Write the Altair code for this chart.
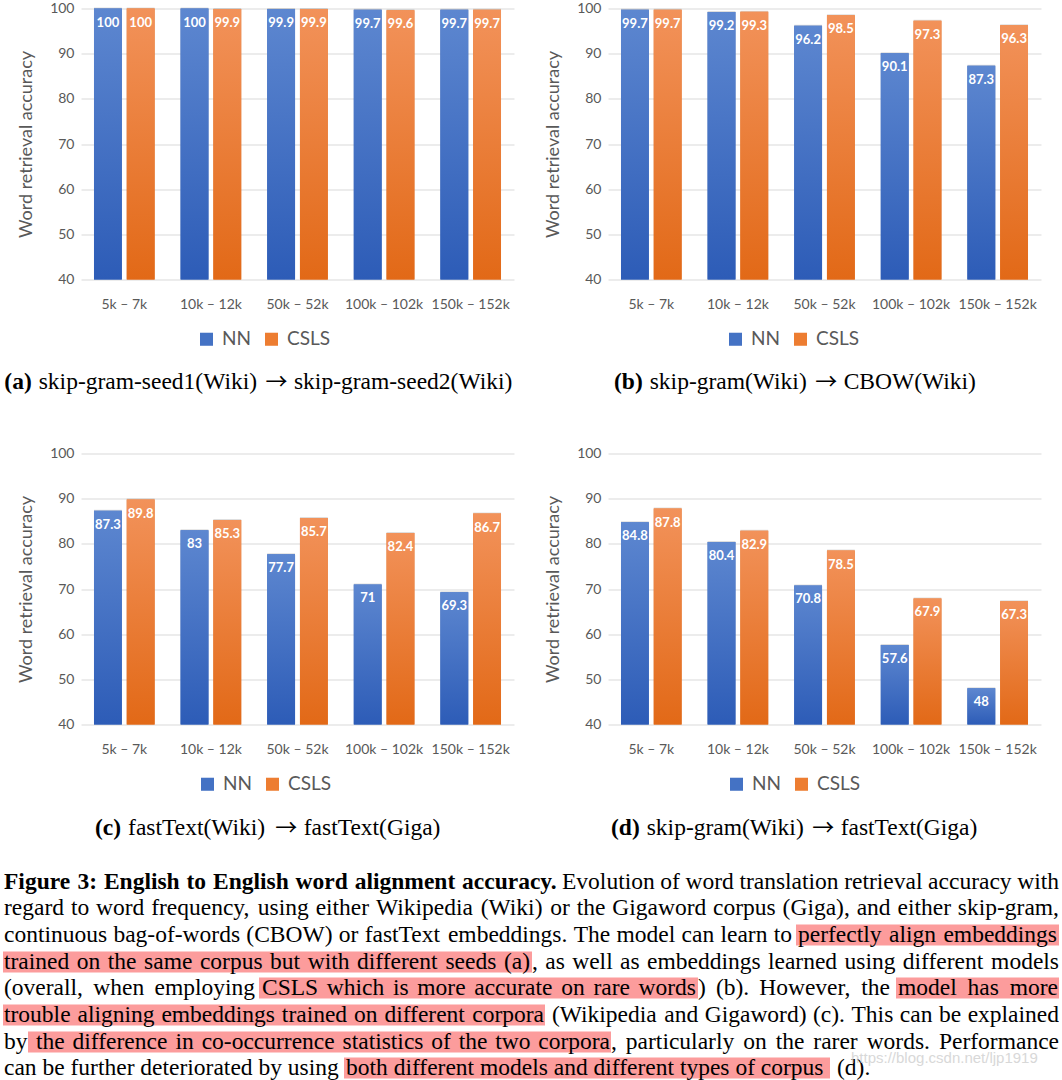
import altair as alt
import pandas as pd

# ---------------- data ----------------
cats = ["5k – 7k", "10k – 12k", "50k – 52k", "100k – 102k", "150k – 152k"]
series = ["NN", "CSLS"]

a_nn = [100, 100, 99.9, 99.7, 99.7]
a_csls = [100, 99.9, 99.9, 99.6, 99.7]
b_nn = [99.7, 99.2, 96.2, 90.1, 87.3]
b_csls = [99.7, 99.3, 98.5, 97.3, 96.3]
c_nn = [87.3, 83, 77.7, 71, 69.3]
c_csls = [89.8, 85.3, 85.7, 82.4, 86.7]
d_nn = [84.8, 80.4, 70.8, 57.6, 48]
d_csls = [87.8, 82.9, 78.5, 67.9, 67.3]

cap_tags = ["(a)", "(b)", "(c)", "(d)"]
cap_from = ["skip-gram-seed1(Wiki)", "skip-gram(Wiki)", "fastText(Wiki)", "skip-gram(Wiki)"]
cap_to = ["skip-gram-seed2(Wiki)", "CBOW(Wiki)", "fastText(Giga)", "fastText(Giga)"]
y_ticks = [40, 50, 60, 70, 80, 90, 100]

# paragraph text, per line: (weight, text, page x start, page x end or None if ragged)
para_lines = [
    [("bold", "Figure 3: English to English word alignment accuracy.", 3, 557),
     ("normal", "Evolution of word translation retrieval accuracy with", 561, 1058)],
    [("normal", "regard to word frequency, using either Wikipedia (Wiki) or the Gigaword corpus (Giga), and either skip-gram,", 3, 1058)],
    [("normal", "continuous bag-of-words (CBOW) or fastText embeddings. The model can learn to", 3, 791),
     ("normal", "perfectly align embeddings", 797, 1056)],
    [("normal", "trained on the same corpus but with different seeds (a)", 3, 529),
     ("normal", ", as well as embeddings learned using different models", 531, 1058)],
    [("normal", "(overall, when employing", 3, 254),
     ("normal", "CSLS which is more accurate on rare words", 261, 695),
     ("normal", ") (b).  However, the", 697, 889),
     ("normal", "model has more", 897, 1057)],
    [("normal", "trouble aligning embeddings trained on different corpora", 3, 543),
     ("normal", "(Wikipedia and Gigaword) (c). This can be explained", 551, 1058)],
    [("normal", "by", 3, None),
     ("normal", "the difference in co-occurrence statistics of the two corpora", 35, 609),
     ("normal", ", particularly on the rarer words.  Performance", 610, 1058)],
    [("normal", "can be further deteriorated by using", 3, None),
     ("normal", "both different models and different types of corpus", 345, None),
     ("normal", "(d).", 836, None)],
]
line_y = [882, 908.5, 935, 962, 988, 1015, 1042, 1068]
# highlighted spans: (line index, x start, x end) on page
highlights = [(2, 795, 1058), (3, 2, 531), (4, 258, 697), (4, 895, 1058),
              (5, 2, 544), (6, 27, 610), (7, 343, 829)]

# ---------------- style / layout ----------------
GRAY = "#595959"
FONT = "Lato"
SERIF = "Liberation Serif"
PFS = 23.5
W, H = 433, 271
PANEL_ORIGIN = [(80, 9), (607, 9), (80, 454), (607, 454)]
CAP_START = [3.3, 613, 94, 610]
CAP_Y = [382, 382, 828, 828]

# Times (Liberation Serif) advance widths, 1/1000 em
_R = dict(zip("abcdefghijklmnopqrstuvwxyz",
              [444, 500, 444, 500, 444, 333, 500, 500, 278, 278, 500, 278, 778,
               500, 500, 500, 500, 333, 389, 278, 500, 500, 722, 500, 500, 444]))
_R.update(dict(zip("ABCDEFGHIJKLMNOPQRSTUVWXYZ",
                   [722, 667, 667, 722, 611, 556, 722, 722, 333, 389, 722, 611, 889,
                    722, 722, 556, 722, 667, 556, 611, 722, 722, 944, 722, 722, 611])))
_R.update({" ": 250, "(": 333, ")": 333, ",": 250, "-": 333, ".": 250, ":": 278, ";": 278})
_R.update({d: 500 for d in "0123456789"})
_B = dict(zip("abcdefghijklmnopqrstuvwxyz",
              [500, 556, 444, 556, 444, 333, 500, 556, 278, 333, 556, 278, 833,
               556, 500, 556, 556, 444, 389, 333, 556, 500, 722, 500, 500, 444]))
_B.update(dict(zip("ABCDEFGHIJKLMNOPQRSTUVWXYZ",
                   [722, 667, 722, 722, 667, 611, 778, 778, 389, 500, 778, 667, 944,
                    722, 778, 611, 778, 722, 556, 667, 722, 722, 1000, 722, 722, 667])))
_B.update({" ": 250, "(": 333, ")": 333, ",": 250, "-": 333, ".": 250, ":": 333})
_B.update({d: 500 for d in "0123456789"})


def text_w(s, weight="normal", fs=PFS):
    tab = _B if weight == "bold" else _R
    return sum(tab.get(ch, 500) for ch in s) * fs / 1000.0


def grad(top, bottom):
    return alt.Gradient(gradient="linear",
                        stops=[alt.GradientStop(color=top, offset=0),
                               alt.GradientStop(color=bottom, offset=1)],
                        x1=0, x2=0, y1=0, y2=1)


grad_nn = grad("#5d87d0", "#2d5cb7")
grad_cs = grad("#f2925a", "#e26917")


def text_layers(df):
    """Serif text layers positioned in pixels (layout of captions / paragraph)."""
    out = []
    specs = [("normal", SERIF, "normal", PFS, "left"),
             ("bold", SERIF, "bold", PFS, "left"),
             ("arrow", "Noto Sans CJK JP", "normal", 22, "center")]
    for kind, font, weight, fs, align in specs:
        if (df["kind"] == kind).any():
            out.append(alt.Chart(df).transform_filter(alt.datum.kind == kind).mark_text(
                align=align, baseline="middle", font=font, fontSize=fs,
                fontWeight=weight, color="black").encode(
                x=alt.X("px:Q", scale=None, axis=None),
                y=alt.Y("py:Q", scale=None, axis=None), text="text:N"))
    return out


def caption_df(idx):
    ox, oy = PANEL_ORIGIN[idx]
    py = CAP_Y[idx] - oy
    x = CAP_START[idx]
    rows = [{"kind": "bold", "text": cap_tags[idx], "px": x - ox, "py": py}]
    x += text_w(cap_tags[idx], "bold") + 7
    rows.append({"kind": "normal", "text": cap_from[idx], "px": x - ox, "py": py})
    x += text_w(cap_from[idx]) + 8
    rows.append({"kind": "arrow", "text": "→", "px": x + 10.5 - ox, "py": py})
    x += 21 + 7
    rows.append({"kind": "normal", "text": cap_to[idx], "px": x - ox, "py": py})
    return pd.DataFrame(rows)


def paragraph_layers():
    ox, oy = PANEL_ORIGIN[2]
    rows = []
    for li, segs in enumerate(para_lines):
        py = line_y[li] - oy
        for weight, txt, xs, xe in segs:
            words = txt.split()
            if xe is None or len(words) < 2:
                rows.append({"kind": weight, "text": txt, "px": xs - ox, "py": py})
                continue
            widths = [text_w(w, weight) for w in words]
            gap = (xe - xs - sum(widths)) / (len(words) - 1)
            x = xs
            for w, wd in zip(words, widths):
                rows.append({"kind": weight, "text": w, "px": x - ox, "py": py})
                x += wd + gap
    pdf = pd.DataFrame(rows)
    hdf = pd.DataFrame([{"x1": a - ox, "x2": b - ox,
                         "y1": line_y[li] - 10 - oy, "y2": line_y[li] + 11 - oy}
                        for li, a, b in highlights])
    hl = alt.Chart(hdf).mark_rect(color="#fc9c9c").encode(
        x=alt.X("x1:Q", scale=None, axis=None), x2="x2:Q",
        y=alt.Y("y1:Q", scale=None, axis=None), y2="y2:Q")
    wm = alt.Chart(pd.DataFrame({"t": ["https://blog.csdn.net/ljp1919"]})).mark_text(
        align="left", baseline="middle", font="Liberation Sans", fontSize=15,
        color="#cfcfcf", opacity=0.8).encode(
        x=alt.value(850 - ox), y=alt.value(1058 - oy), text="t:N")
    return [hl] + text_layers(pdf) + [wm]


def panel(nn, csls, idx, legend_x, extra=None):
    df = pd.DataFrame({"cat": cats * 2,
                       "series": ["NN"] * 5 + ["CSLS"] * 5,
                       "value": nn + csls})
    df["label"] = [f"{v:g}" for v in df["value"]]
    base = alt.Chart(df)
    x = alt.X("cat:N", sort=cats,
              scale=alt.Scale(paddingInner=0.3, paddingOuter=0.15),
              axis=alt.Axis(title=None, labelAngle=0, labelFontSize=14,
                            labelColor=GRAY, labelFont=FONT, domain=False,
                            ticks=False, labelPadding=18))
    xo = alt.XOffset("series:N", sort=series,
                     scale=alt.Scale(domain=series, paddingInner=0.15, paddingOuter=0))
    y = alt.Y("value:Q", scale=alt.Scale(domain=[40, 100], zero=False, nice=False),
              axis=alt.Axis(values=y_ticks, title="Word retrieval accuracy",
                            titleFont=FONT, titleFontSize=18, titleFontWeight="normal",
                            titleColor=GRAY, titlePadding=14, labelFont=FONT,
                            labelFontSize=14, labelColor=GRAY, labelPadding=7,
                            domain=False, ticks=False, grid=True,
                            gridColor="#d9d9d9", gridWidth=1.2))
    y2 = alt.datum(40)
    shadow = base.mark_bar(color="#000000", opacity=0.13, xOffset=2, x2Offset=2,
                           yOffset=-1).encode(x=x, xOffset=xo, y=y, y2=y2)
    solid = base.mark_bar().encode(
        x=x, xOffset=xo, y=y, y2=y2,
        color=alt.Color("series:N", sort=series,
                        scale=alt.Scale(domain=series, range=["#4472c4", "#ed7d31"]),
                        legend=alt.Legend(orient="none", legendX=legend_x, legendY=321,
                                          direction="horizontal", title=None,
                                          padding=0, labelFontSize=19, labelColor=GRAY,
                                          labelFont=FONT, symbolType="square",
                                          symbolSize=170, symbolStrokeWidth=0,
                                          columnPadding=10, labelOffset=6)))
    g1 = base.transform_filter(alt.datum.series == "NN").mark_bar(color=grad_nn).encode(
        x=x, xOffset=xo, y=y, y2=y2)
    g2 = base.transform_filter(alt.datum.series == "CSLS").mark_bar(color=grad_cs).encode(
        x=x, xOffset=xo, y=y, y2=y2)
    labels = base.mark_text(color="white", font=FONT, fontWeight="bold", fontSize=13,
                            baseline="middle", dy=14).encode(
        x=x, xOffset=xo, y=y, text="label:N")
    layers = [shadow, solid, g1, g2, labels] + text_layers(caption_df(idx))
    if extra:
        layers = extra + layers
    return alt.layer(*layers).properties(width=W, height=H)


pa = panel(a_nn, a_csls, 0, 116)
pb = panel(b_nn, b_csls, 1, 118)
pc = panel(c_nn, c_csls, 2, 117, extra=paragraph_layers())
pd_ = panel(d_nn, d_csls, 3, 119)

chart = alt.concat(pa, pb, pc, pd_, columns=2, bounds="flush",
                   spacing={"row": 174, "column": 94}).resolve_scale(
    color="independent").resolve_legend(color="independent").properties(
    padding={"left": 3, "top": 1.5, "right": 0, "bottom": 0},
    background="white"
).configure_view(stroke=None)

chart.save("out.html", embed_options={"renderer": "svg", "actions": False})
